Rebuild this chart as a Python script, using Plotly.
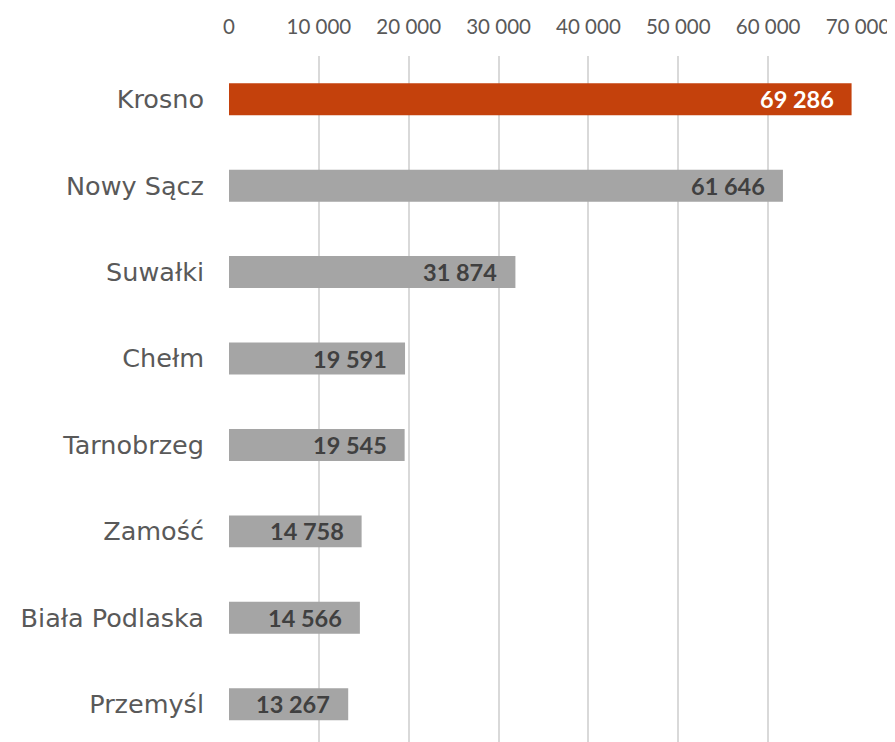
import plotly.graph_objects as go

cities = ["Krosno", "Nowy Sącz", "Suwałki", "Chełm", "Tarnobrzeg", "Zamość", "Biała Podlaska", "Przemyśl"]
values = [69286, 61646, 31874, 19591, 19545, 14758, 14566, 13267]
highlight = "Krosno"
tick_vals = [0, 10000, 20000, 30000, 40000, 50000, 60000, 70000]

colors = ["#C4410C" if c == highlight else "#A5A5A5" for c in cities]
label_colors = ["#FFFFFF" if c == highlight else "#404040" for c in cities]

fig = go.Figure()
fig.add_trace(go.Bar(
    x=values, y=cities, orientation="h",
    marker=dict(color=colors, line=dict(width=0)),
    hoverinfo="skip",
))

for c, v, lc in zip(cities, values, label_colors):
    fig.add_annotation(
        x=v, y=c, text=f"{v:,}".replace(",", " "),
        xanchor="right", yanchor="middle", xshift=-16, showarrow=False,
        font=dict(family="Lato", size=23.5, color=lc, weight="bold"),
    )

fig.update_layout(
    width=887, height=734,
    margin=dict(l=221, r=37, t=48, b=0, autoexpand=False),
    paper_bgcolor="white", plot_bgcolor="white",
    bargap=0.63,
    separators=". ",
    showlegend=False,
    xaxis=dict(
        side="top", range=[0, 70000], tickvals=tick_vals,
        tickformat=",d", automargin=False,
        showgrid=True, gridcolor="#D9D9D9", gridwidth=2,
        zeroline=False, showline=False, ticks="",
        ticklabelstandoff=17,
        tickfont=dict(family="Lato", size=20.5, color="#595959"),
    ),
    yaxis=dict(
        categoryorder="array", categoryarray=cities,
        range=[7.437, -0.5], automargin=False,
        showgrid=False, zeroline=False, showline=False, ticks="",
        ticklabelstandoff=24,
        tickfont=dict(family="DejaVu Sans", size=25.5, color="#595959"),
    ),
)

fig.write_html("out.html")
